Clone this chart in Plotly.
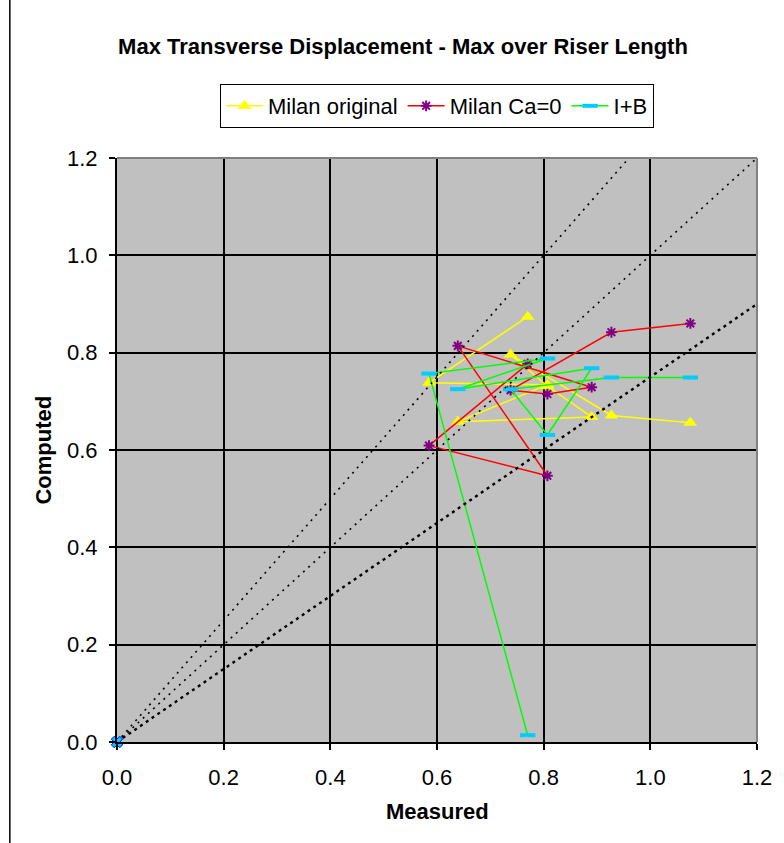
import plotly.graph_objects as go

# Data (order as plotted in the original series)
measured = [0.770, 0.585, 0.807, 0.639, 0.890, 0.807, 0.738, 0.927, 1.075]
milan_original = [0.874, 0.738, 0.734, 0.658, 0.668, 0.731, 0.796, 0.671, 0.656]
milan_ca0 = [0.777, 0.609, 0.547, 0.814, 0.729, 0.715, 0.723, 0.842, 0.860]
i_plus_b = [0.014, 0.757, 0.788, 0.725, 0.768, 0.631, 0.725, 0.749, 0.749]

# Reference lines y = k * x through origin
ref_slopes = [1.25, 1.0, 0.75]
ref_x_end = [0.96, 1.2, 1.2]
ref_widths = [1.6, 1.6, 2.4]
ref_dash = ["2px,5px", "2px,5px", "3px,4px"]

tick_vals = [0.0, 0.2, 0.4, 0.6, 0.8, 1.0, 1.2]
tick_text = ["0.0", "0.2", "0.4", "0.6", "0.8", "1.0", "1.2"]

FONT = "Liberation Sans, Arial, sans-serif"

fig = go.Figure()

fig.add_trace(go.Scatter(
    x=measured, y=milan_original, mode="lines+markers", name="Milan original",
    line=dict(color="#FFFF00", width=1.5),
    marker=dict(symbol="triangle-up", size=12, color="#FFFF00",
                line=dict(color="#FFFF00", width=0)),
))
fig.add_trace(go.Scatter(
    x=measured, y=milan_ca0, mode="lines+markers", name="Milan Ca=0",
    line=dict(color="#FF0000", width=1.5),
    marker=dict(symbol="asterisk-open", size=9, color="#800080",
                line=dict(color="#800080", width=2)),
))
fig.add_trace(go.Scatter(
    x=measured, y=i_plus_b, mode="lines+markers", name="I+B",
    line=dict(color="#00FF00", width=1.5),
    marker=dict(symbol="line-ew-open", size=11, color="#00CCFF",
                line=dict(color="#00CCFF", width=4)),
    cliponaxis=False,
))

for k, xe, w, d in zip(ref_slopes, ref_x_end, ref_widths, ref_dash):
    fig.add_trace(go.Scatter(
        x=[0, xe], y=[0, k * xe], mode="lines", showlegend=False,
        line=dict(color="black", width=w, dash=d), hoverinfo="skip",
    ))

# marker at origin
fig.add_trace(go.Scatter(
    x=[0], y=[0], mode="markers", showlegend=False, cliponaxis=False,
    marker=dict(symbol="x", size=10, color="#00CCFF",
                line=dict(color="#0000FF", width=1)),
))

axis_common = dict(
    range=[0, 1.2], tickvals=tick_vals, ticktext=tick_text,
    showgrid=True, gridcolor="black", gridwidth=1.6,
    showline=True, linecolor="black", linewidth=2,
    ticks="outside", ticklen=6, tickcolor="black", tickwidth=1.5,
    tickfont=dict(family=FONT, size=22, color="black"),
    zeroline=False, fixedrange=True,
)

fig.update_xaxes(**axis_common, ticklabelstandoff=9)
fig.update_yaxes(**axis_common, ticklabelstandoff=7)

fig.update_layout(
    width=784, height=843,
    margin=dict(l=117, r=22, t=158, b=101),
    paper_bgcolor="white", plot_bgcolor="#C0C0C0",
    font=dict(family=FONT, color="black"),
    title=dict(
        text="<b>Max Transverse Displacement - Max over Riser Length</b>",
        font=dict(family=FONT, size=22, color="black"),
        x=403 / 784, xanchor="center", xref="container",
        y=1 - 46 / 843, yanchor="middle", yref="container",
    ),
    legend=dict(
        orientation="h", x=0.5, xanchor="center", y=1 + 74 / 584, yanchor="top",
        bordercolor="black", borderwidth=1, bgcolor="white",
        font=dict(family=FONT, size=22, color="black"),
        itemwidth=37, tracegroupgap=0,
    ),
    showlegend=True,
    annotations=[
        dict(text="<b>Measured</b>", x=0.5, y=-(811 - 742) / 584, xref="paper", yref="paper",
             xanchor="center", yanchor="middle", showarrow=False,
             font=dict(family=FONT, size=22, color="black")),
        dict(text="<b>Computed</b>", x=(42 - 117) / 645, y=(742 - 450) / 584, xref="paper", yref="paper",
             xanchor="center", yanchor="middle", showarrow=False, textangle=-90,
             font=dict(family=FONT, size=22, color="black")),
    ],
    shapes=[
        # plot area top/right gray border
        dict(type="line", xref="paper", yref="paper", x0=0, x1=1, y0=1, y1=1,
             line=dict(color="#808080", width=2)),
        dict(type="line", xref="paper", yref="paper", x0=1, x1=1, y0=0, y1=1,
             line=dict(color="#808080", width=2)),
        # chart frame left edge
        dict(type="line", xref="paper", yref="paper", x0=(9 - 117) / 645, x1=(9 - 117) / 645,
             y0=-101 / 584, y1=1 + 158 / 584, line=dict(color="black", width=1.5)),
    ],
)

fig.write_html("out.html", config={"displayModeBar": False},
               post_script="document.body.style.margin='0';")
